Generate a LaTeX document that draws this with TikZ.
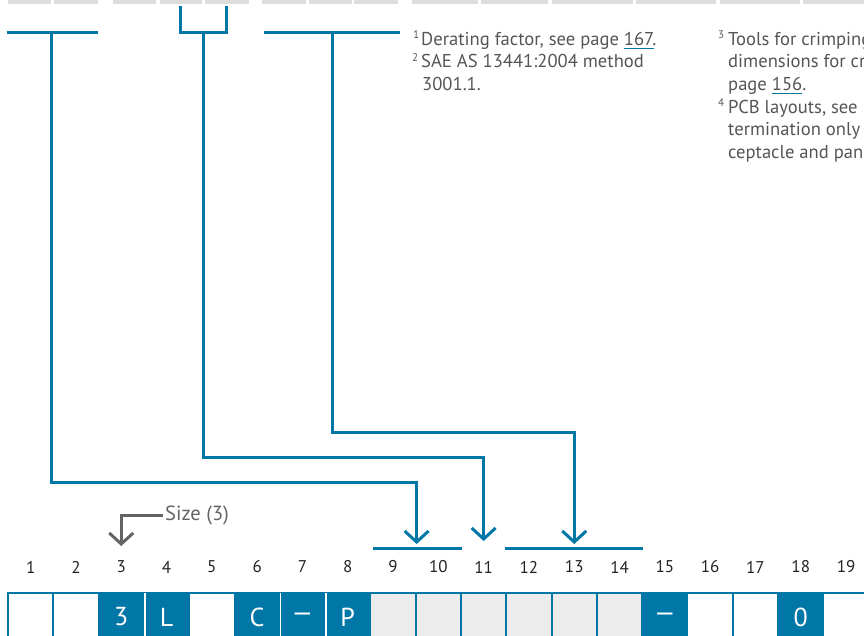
\documentclass[tikz,border=0pt]{standalone}
\usepackage{fontspec}
\setmainfont{PT Sans}
\usetikzlibrary{positioning, calc, arrows.meta}

\definecolor{codeblue}{RGB}{0,119,167}
\definecolor{cellgray}{RGB}{236,236,236}
\definecolor{bargray}{RGB}{221,221,221}
\definecolor{notegray}{RGB}{85,85,85}
\definecolor{numgray}{RGB}{35,35,35}
\definecolor{sizegray}{RGB}{100,100,100}

\newlength\linkwd
\newcommand\pagelink[1]{\settowidth\linkwd{#1}\rlap{\textcolor{codeblue}{\rule[-4pt]{\linkwd}{1.5pt}}}#1}
\newcommand\celldash{\raisebox{-3pt}{\scalebox{1.4}[1]{--}}}

\begin{document}
\begin{tikzpicture}[x=1pt, y=-1pt,
    link/.style={codeblue, line width=3pt},
    linkarrow/.style={link, -{Straight Barb[length=11pt, width=24pt, line width=3pt]}},
    sizearrow/.style={sizegray, line width=3pt, -{Straight Barb[length=11pt, width=24pt, line width=3pt]}},
    cell/.style={draw=codeblue, line width=1.8pt, minimum width=45.3pt, minimum height=48pt,
        inner sep=0pt, text=white, font=\fontsize{26}{30}\selectfont},
    numlabel/.style={text=numgray, font=\fontsize{17}{20}\selectfont},
    note/.style={anchor=base west, inner sep=0pt, text=notegray, font=\fontsize{18.6}{22}\selectfont},
    notemark/.style={anchor=base west, inner sep=0pt, text=notegray, font=\fontsize{11}{13}\selectfont}]
    \useasboundingbox (0,0) rectangle (864,635);

    % table rows cut off at the top
    \foreach \a/\b in {8/51, 54/98, 113/156, 160/202, 205/249, 262/306, 309/352, 354/398,
        412/478, 481/548, 552/633, 636/716, 720/800, 803/870}
        \fill[bargray] (\a,0) rectangle (\b,4);

    % brackets
    \draw[link] (7,32) -- (98,32);
    \draw[link] (180,6) -- (180,32) -- (226,32) -- (226,6);
    \draw[link] (264,32) -- (400,32);
    \coordinate (top1) at (51,32);
    \coordinate (top2) at (203,32);
    \coordinate (top3) at (332,32);

    % code cells
    \foreach \i/\t/\f in {1//white, 2//white, 3/3/codeblue, 4/L/codeblue, 5//white,
        6/C/codeblue, 7/{\celldash}/codeblue, 8/P/codeblue, 9//cellgray, 10//cellgray,
        11//cellgray, 12//cellgray, 13//cellgray, 14//cellgray, 15/{\celldash}/codeblue,
        16//white, 17//white, 18/0/codeblue, 19//white}
        \node[cell, fill=\f] (c\i) at ({8+45.3*(\i-0.5)}, 617) {\t};
    \foreach \a in {3,6,7}
        \draw[white, line width=1.5pt] ([yshift=-1pt]c\a.north east) -- (c\a.south east);
    \foreach \i in {1,...,19}
        \node[numlabel] (n\i) at (c\i |- 0,567) {\i};

    % targets
    \coordinate (tip1) at (c9.north east |- 0,544);
    \coordinate (tip2) at (c11 |- 0,541);
    \coordinate (tip3) at (c13 |- 0,544);
    \draw[link] ([xshift=3pt]c9.north west |- 0,548) -- (c10.north east |- 0,548);
    \draw[link] (c12.north west |- 0,548) -- (c14.north east |- 0,548);

    \draw[linkarrow] (top1) -- (top1 |- 0,482) -| (tip1);
    \draw[linkarrow] (top2) -- (top2 |- 0,457) -| (tip2);
    \draw[linkarrow] (top3) -- (top3 |- 0,432) -| (tip3);

    % size hint
    \node[anchor=west, inner sep=2pt, text=sizegray, font=\fontsize{20.5}{24}\selectfont]
        (size) at (163,515) {Size (3)};
    \coordinate (sizetip) at (c3 |- 0,546);
    \draw[sizearrow] (size.west) -| (sizetip);

    % footnotes
    \node[notemark] (m1) at (413,38) {1};
    \node[note] (fn1) at (421,45) {Derating factor, see page \pagelink{167}.};
    \node[notemark] (m2) at (412,61) {2};
    \node[note] (fn2a) at (421,67.5) {SAE AS 13441:2004 method};
    \node[note] (fn2b) at (422,90) {3001.1.};
    \node[notemark] (m3) at (718,38) {3};
    \node[note] (fn3a) at (728,45) {Tools for crimping};
    \node[note] (fn3b) at (728,67.5) {dimensions for cr};
    \node[note] (fn3c) at (728,90) {page \pagelink{156}.};
    \node[notemark] (m4) at (718,106) {4};
    \node[note] (fn4a) at (728,113) {PCB layouts, see};
    \node[note] (fn4b) at (728,135.5) {termination only};
    \node[note] (fn4c) at (728,158) {ceptacle and pan};
\end{tikzpicture}
\end{document}
